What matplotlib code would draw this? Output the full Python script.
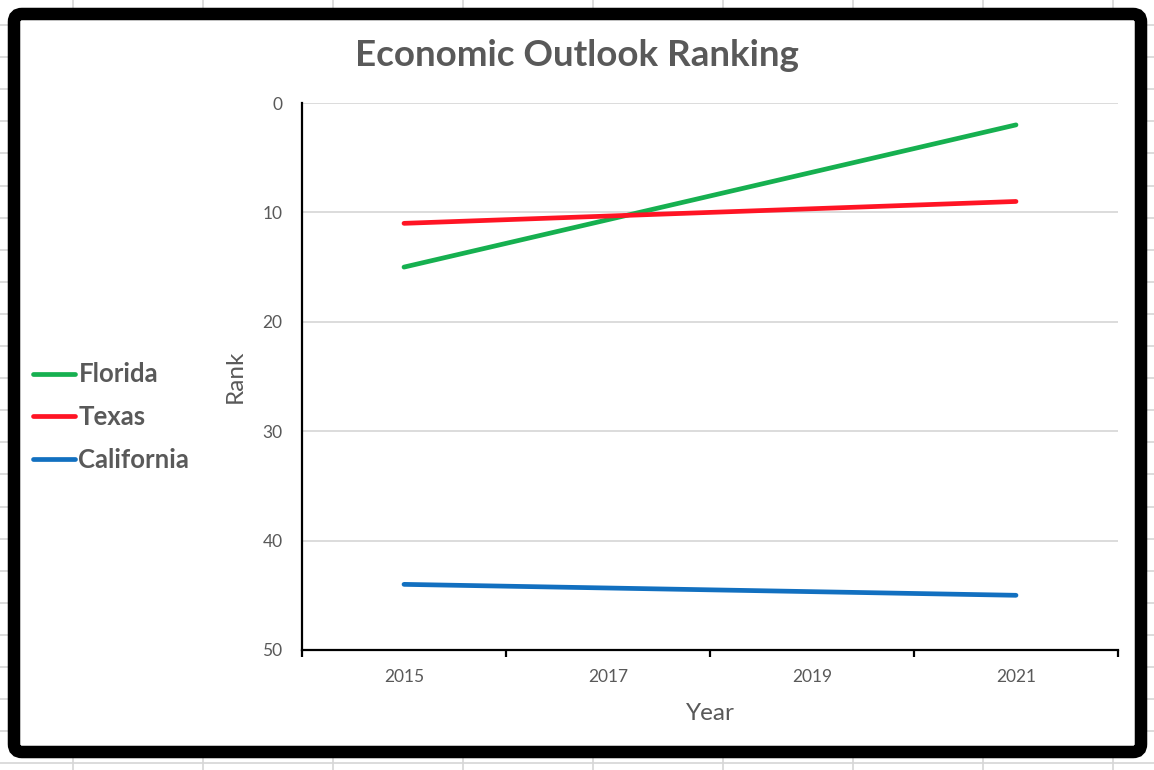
import numpy as np
import matplotlib
matplotlib.use("Agg")
from matplotlib import pyplot as plt
from matplotlib.patches import FancyBboxPatch

# chart data (rank, lower is better); only the end years are filled in
years = ["2015", "2017", "2019", "2021"]
florida = [15, None, None, 2]
texas = [11, None, None, 9]
california = [44, None, None, 45]

series_names = ["Florida", "Texas", "California"]
series_colors = ["#16b050", "#ff1424", "#1270c0"]

TEXT_GREY = "#595959"
W, H = 1154, 770

plt.rcParams["font.family"] = ["Lato", "DejaVu Sans"]

fig = plt.figure(figsize=(W / 100, H / 100), dpi=100)

# spreadsheet cells behind the chart
bg = fig.add_axes([0, 0, 1, 1])
bg.set_xlim(0, W)
bg.set_ylim(H, 0)
bg.axis("off")
for gx in np.arange(73, W, 130):
    bg.axvline(gx, color="#d6d6d6", lw=1.2, zorder=0)
for gy in np.arange(25, H, 32.1):
    bg.axhline(gy, color="#d6d6d6", lw=1.2, zorder=0)
frame = FancyBboxPatch((14, 14), 1127, 738, boxstyle="round,pad=0,rounding_size=8",
                       facecolor="white", edgecolor="black", linewidth=9, zorder=1)
bg.add_patch(frame)

ax = fig.add_axes([302 / W, 1 - 650 / H, 816 / W, 547 / H])
ax.set_facecolor("none")

x = np.arange(len(years))
for name, vals, col in zip(series_names, [florida, texas, california], series_colors):
    pts = [(xi, v) for xi, v in zip(x, vals) if v is not None]
    ax.plot([p[0] for p in pts], [p[1] for p in pts], color=col, lw=3.4,
            solid_capstyle="round", label=name)

ax.set_xlim(-0.5, len(years) - 0.5)
ax.set_ylim(50, 0)
ax.set_yticks(np.arange(0, 51, 10))
ax.grid(axis="y", color="#d9d9d9", lw=1.3)
ax.set_axisbelow(True)

# category axis: tick marks between categories, labels at centres
ax.set_xticks(np.arange(-0.5, len(years), 1.0))
ax.set_xticklabels([])
ax.set_xticks(x, minor=True)
ax.set_xticklabels(years, minor=True)
ax.tick_params(axis="x", which="major", direction="out", length=5, width=1.6, color="black")
ax.tick_params(axis="x", which="minor", length=0, pad=14, labelsize=12.5, labelcolor=TEXT_GREY)
ax.tick_params(axis="y", length=0, pad=14, labelsize=12.5, labelcolor=TEXT_GREY)

for s in ["top", "right"]:
    ax.spines[s].set_visible(False)
for s in ["left", "bottom"]:
    ax.spines[s].set_color("black")
    ax.spines[s].set_linewidth(1.6)

ax.set_xlabel("Year", fontsize=17.5, color=TEXT_GREY, labelpad=13)
ax.set_ylabel("Rank", fontsize=17.5, color=TEXT_GREY, labelpad=12)

fig.text(0.5, 1 - 56 / H, "Economic Outlook Ranking", ha="center", va="center",
         fontsize=26.5, fontweight="bold", color=TEXT_GREY)

leg = fig.legend(loc="center left", bbox_to_anchor=(33 / W, 1 - 417 / H), frameon=False,
                 borderpad=0, borderaxespad=0,
                 handlelength=1.65, handletextpad=0.12, labelspacing=0.72,
                 prop={"size": 18.5, "weight": "bold"})
for t in leg.get_texts():
    t.set_color(TEXT_GREY)

fig.savefig("out.png", dpi=100)
